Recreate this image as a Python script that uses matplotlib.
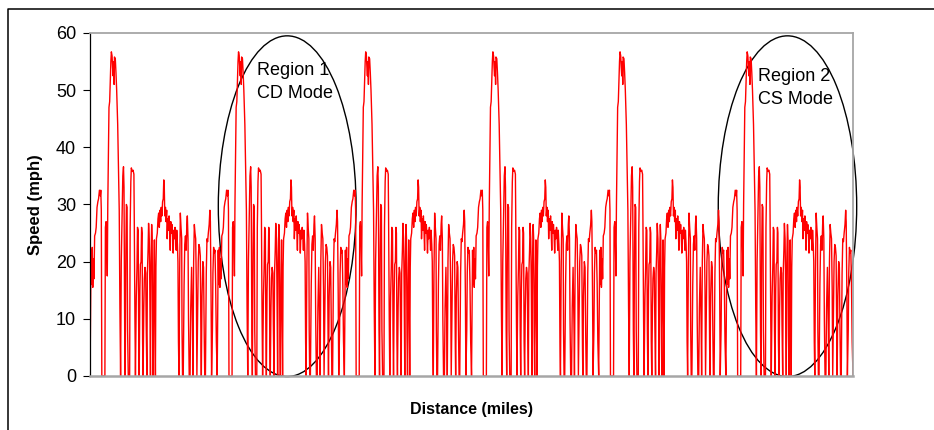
import numpy as np
import matplotlib.pyplot as plt
from matplotlib.patches import Ellipse
from matplotlib.lines import Line2D

plt.rcParams['font.family'] = ['Liberation Sans', 'DejaVu Sans']

# one drive cycle (distance in miles within the cycle, speed in mph)
cycle_miles = [
    0.00, 0.04, 0.06, 0.09, 0.13, 0.16, 0.20, 0.23, 0.27, 0.32, 0.36, 0.41, 0.46, 0.50, 0.55, 0.60, 0.63, 0.66, 0.69,
    0.87, 0.90, 0.94, 0.97, 1.01, 1.04, 1.08, 1.11, 1.15, 1.18, 1.22, 1.25, 1.29, 1.32, 1.35, 1.38, 1.41, 1.43, 1.48,
    1.52, 1.56, 1.62, 1.67, 1.71, 1.75, 1.79,
    1.83, 1.89, 1.92, 1.96, 1.99, 2.03, 2.06,
    2.10, 2.13, 2.17, 2.20, 2.24,
    2.32, 2.35, 2.39, 2.42, 2.47, 2.52, 2.57, 2.59, 2.63, 2.66,
    2.71, 2.75, 2.78, 2.82, 2.85, 2.88,
    2.92, 2.95, 2.99, 3.02, 3.05, 3.08, 3.11,
    3.15, 3.18, 3.22, 3.26, 3.29, 3.33,
    3.36, 3.40, 3.43, 3.47, 3.50, 3.54,
    3.57, 3.61, 3.64, 3.67, 3.70,
    3.74, 3.77, 3.80, 3.83,
    3.86, 3.89, 3.94, 3.98, 4.02, 4.06, 4.10, 4.14, 4.17, 4.21, 4.25, 4.29, 4.32, 4.35, 4.38, 4.42, 4.45, 4.49,
    4.52, 4.56, 4.59, 4.63, 4.66, 4.70, 4.73, 4.77, 4.80, 4.84, 4.87, 4.91, 4.94, 4.98, 5.01, 5.05, 5.08, 5.12,
    5.15, 5.18, 5.21,
    5.25, 5.29, 5.33, 5.37, 5.39, 5.42,
    5.46, 5.51, 5.55, 5.59, 5.63, 5.67, 5.70, 5.74, 5.77, 5.81,
    5.86, 5.90, 5.95, 6.00, 6.03,
    6.07, 6.11, 6.15, 6.19, 6.23, 6.26,
    6.30, 6.34, 6.38, 6.42, 6.46, 6.50, 6.52,
    6.56, 6.61, 6.65, 6.69, 6.72,
    6.76, 6.81, 6.85, 6.89, 6.93, 6.98, 7.02, 7.05, 7.09, 7.12,
    7.17, 7.20, 7.24, 7.28, 7.32, 7.36, 7.40, 7.45,
]
cycle_mph = [
    0, 15, 22, 16, 22.5, 15.5, 20.5, 17, 24.5, 25, 26, 29.5, 30.5, 31, 32.5, 31.5, 32.5, 29, 0,
    0, 26, 27, 24, 17.5, 30, 40, 47, 48, 51, 55, 56.7, 56, 54, 52.5, 55, 51, 55.8, 55.5,
    53, 50, 44, 36, 29, 12, 0,
    20, 30, 35, 36.6, 33, 8, 0,
    22, 30, 29.5, 8, 0,
    0, 26, 34, 36.4, 35.8, 36, 35.3, 28, 10, 0,
    14, 19, 26, 25.5, 8, 0,
    15, 19.5, 20, 26, 25, 6, 0,
    12, 17, 19, 18, 9, 0,
    18, 22, 26.7, 24, 16, 0,
    20, 26.5, 24, 7, 0,
    17, 23.8, 12, 0,
    19, 24, 25, 27.5, 28.5, 26, 29, 27, 29.5, 28, 30.5, 31, 34.3, 33, 28, 29.5, 27, 29,
    24, 27.5, 25.5, 28, 26, 22, 27, 25, 26.5, 24.5, 21.5, 25.5, 24, 26, 25, 22, 25.5, 23,
    20, 6, 0,
    18, 28.5, 26, 24, 8, 0,
    0, 16, 23, 24.5, 22, 26.5, 28, 24, 10, 0,
    0, 12, 19, 9, 0,
    20, 26.5, 25, 24, 15, 0,
    10, 20, 23, 22.5, 21, 5, 0,
    14, 20, 19, 7, 0,
    0, 18, 24, 23.5, 25, 26.5, 29, 27, 14, 0,
    8, 18, 22.5, 21.5, 22, 16, 6, 0,
]
n_cycles = 6
cycle_length = 7.45

# regions marked on the chart
region_labels = ['Region 1\nCD Mode', 'Region 2\nCS Mode']
region_centres = [11.55, 40.86]
region_widths = [8.07, 8.11]
label_pos = [(9.77, 54.9), (39.12, 53.8)]

dist = np.concatenate([np.array(cycle_miles) + k * cycle_length for k in range(n_cycles)])
speed = np.tile(cycle_mph, n_cycles)

fig = plt.figure(figsize=(9.34, 4.30), dpi=100)
ax = fig.add_axes([0.0964, 0.1256, 0.8169, 0.7977])

ax.plot(dist, speed, color='#ff0000', lw=1.0)

for lab, cx, w, (tx, ty) in zip(region_labels, region_centres, region_widths, label_pos):
    ax.add_patch(Ellipse((cx, 29.7), w, 59.6, fill=False, ec='black', lw=1.0, clip_on=False))
    ax.text(tx, ty, lab, fontsize=13, va='top', ha='left', linespacing=1.42)

ax.set_xlim(0, n_cycles * cycle_length)
ax.set_ylim(0, 60)
ax.set_yticks(range(0, 61, 10))
ax.set_xticks([])
ax.tick_params(axis='y', direction='out', length=5, width=0.8, pad=5, labelsize=13)
for side in ['top', 'right', 'bottom']:
    ax.spines[side].set_color('#a6a6a6')
    ax.spines[side].set_linewidth(1.3)
ax.spines['bottom'].set_linewidth(1.8)
ax.spines['left'].set_color('black')
ax.spines['left'].set_linewidth(0.9)

ax.set_xlabel('Distance (miles)', fontsize=11.5, fontweight='bold', labelpad=19)
ax.set_ylabel('Speed (mph)', fontsize=12, fontweight='bold', labelpad=9)

# outer frame, cut off at right and bottom
fig.add_artist(Line2D([8 / 934, 8 / 934, 1.0], [0.0, 1 - 9 / 430, 1 - 9 / 430],
                      transform=fig.transFigure, color='black', lw=1.1))

fig.savefig('out.png', dpi=100)
